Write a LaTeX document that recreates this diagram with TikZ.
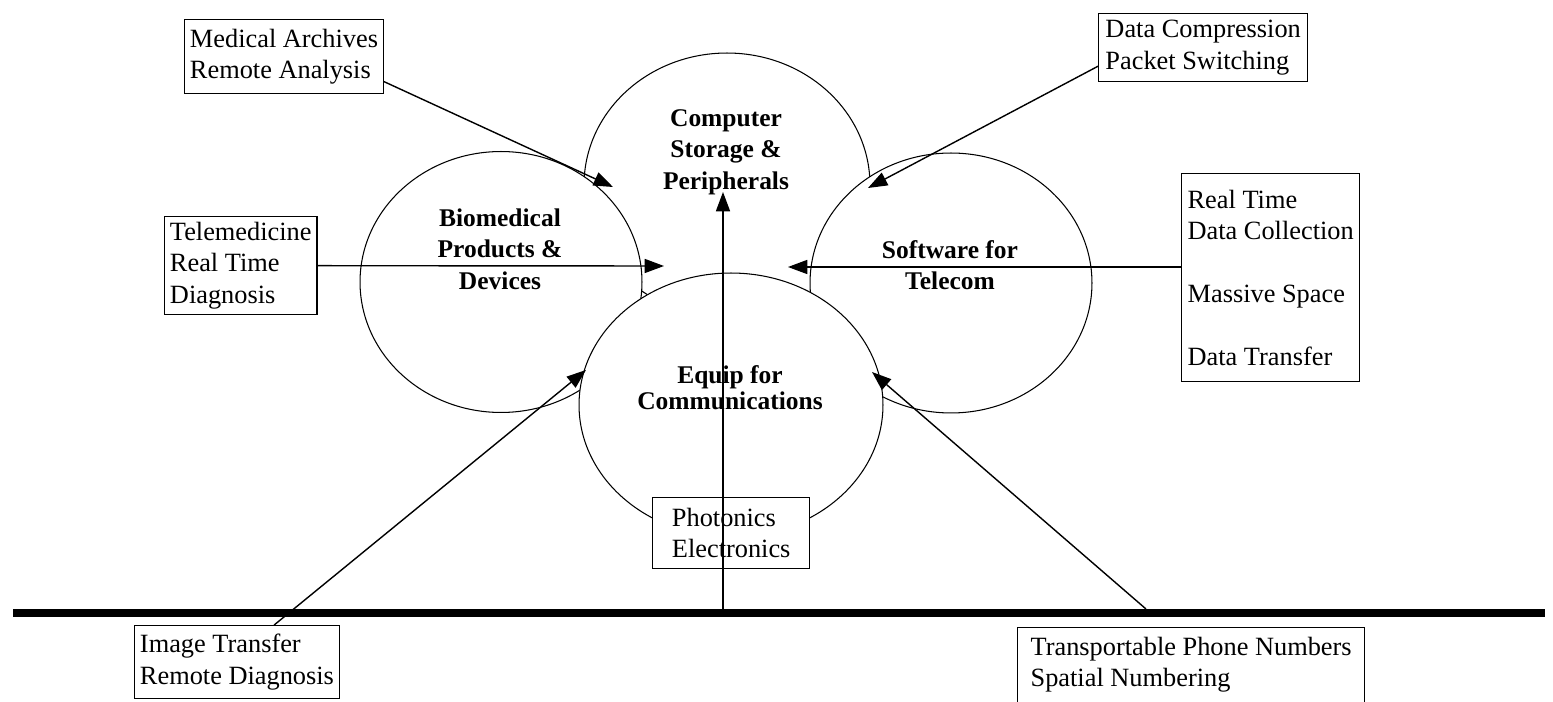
\documentclass[tikz,border=0pt]{standalone}
\usepackage{fontspec}
\setmainfont{Liberation Serif}
\usetikzlibrary{shapes.geometric,arrows.meta}

\tikzset{
  field/.style={ellipse, draw, fill=white, line width=0.6pt, inner sep=0pt},
  fieldname/.style={align=center, font=\bfseries\fontsize{14.5}{18}\selectfont},
  tag/.style={draw, fill=white, line width=0.8pt, anchor=north west, align=left,
    inner xsep=3pt, inner ysep=2pt, font=\fontsize{15}{17.9}\selectfont},
  pointer/.style={line width=0.8pt, -{Triangle[length=11pt,width=8pt]}}
}

\begin{document}
\begin{tikzpicture}[x=0.02cm,y=-0.02cm]
        \fill[white] (0,0) rectangle (1553,702);
        \useasboundingbox (0,0) rectangle (1553,702);

        % The four overlapping fields, back to front
        \node[field, minimum width=5.72cm, minimum height=5.28cm] (comp) at (727,185) {};
        \node[field, minimum width=5.64cm, minimum height=5.22cm] (bio) at (501,282) {};
        \node[field, minimum width=5.64cm, minimum height=5.2cm] (soft) at (951,283) {};
        \node[field, minimum width=6.08cm, minimum height=5.28cm] (equip) at (731,405) {};

        \node[fieldname] (compT) at (726,152) {Computer\\Storage \&\\Peripherals};
        \node[fieldname] (bioT) at (500,249) {Biomedical\\Products \&\\Devices};
        \node[fieldname] (softT) at (950,265) {Software for\\Telecom};
        \node[fieldname, font=\bfseries\fontsize{14.5}{15}\selectfont] (equipT) at (730,388) {Equip for\\Communications};

        % Application boxes
        \node[tag, minimum width=3.86cm, minimum height=1.48cm] (med) at (184,19) {Medical Archives\\Remote Analysis};
        \node[tag, minimum width=3.02cm, minimum height=1.96cm] (tele) at (164,216) {Telemedicine\\Real Time\\Diagnosis};
        \node[tag, minimum width=4.18cm, minimum height=1.36cm] (comp2) at (1098,13) {Data Compression\\Packet Switching};
        \node[tag, minimum width=3.56cm, minimum height=4.16cm] (rt) at (1181,173) {Real Time\\Data Collection\\~\\Massive Space\\~\\Data Transfer};
        \node[tag, minimum width=3.14cm, minimum height=1.42cm] (phot) at (652,497) {Photonics\\Electronics};
        \node[tag, minimum width=4.08cm, minimum height=1.46cm] (img) at (134,625) {Image Transfer\\Remote Diagnosis};
        \node[tag, minimum width=6.94cm, minimum height=2cm] (num) at (1017,627) {Transportable Phone Numbers\\Spatial Numbering\\~};

        % Ground line
        \coordinate (gndL) at (13,613);
        \coordinate (gndR) at (1545,613);
        \coordinate (gndC) at (723,609);
        \coordinate (gndN) at (1146,609);
        \draw[line width=0.16cm] (gndL) -- (gndR);

        % Arrow tips
        \coordinate (medTip) at (613,187);
        \coordinate (teleTip) at (664,266);
        \coordinate (compTip) at (868,188);
        \coordinate (rtTip) at (788,267);
        \coordinate (upTip) at (723,192);
        \coordinate (imgTip) at (586,370);
        \coordinate (numTip) at (872,372);

        \draw[pointer] (med.-14) -- (medTip);
        \draw[pointer] (tele.east) -- (teleTip);
        \draw[pointer] (comp2.190) -- (compTip);
        \draw[pointer] (rt.west |- rtTip) -- (rtTip);
        \draw[pointer] (gndC) -- (upTip);
        \draw[pointer] (img.45) -- (imgTip);
        \draw[pointer] (gndN) -- (numTip);
    \end{tikzpicture}
\end{document}
